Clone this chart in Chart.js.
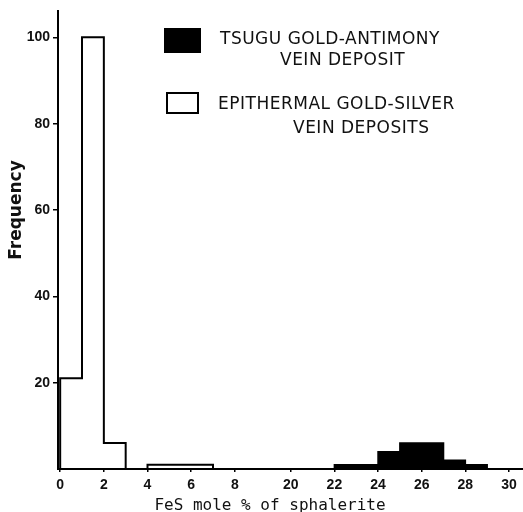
<!DOCTYPE html>
<html lang="en">
<head>
<meta charset="UTF-8" />
<title>FeS mole % of sphalerite</title>
<script src="https://cdn.jsdelivr.net/npm/chart.js"></script>
<style>
  html, body { margin: 0; padding: 0; background: #fff; }
  #wrap { width: 523px; height: 512px; }
</style>
</head>
<body>
<div id="wrap"><canvas id="myChart"></canvas></div>
<script>
  // histogram bins, 1 mole % wide: left edges and counts
  const epiBinEdges = [0, 1, 2, 3, 4, 5, 6, 7];
  const epiCounts = [21, 100, 6, 0, 1, 1, 1];
  const tsuguBinEdges = [22, 23, 24, 25, 26, 27, 28, 29];
  const tsuguCounts = [1, 1, 4, 6, 6, 2, 1];

  const xTickLabels = [0, 2, 4, 6, 8, 20, 22, 24, 26, 28, 30];
  const yTickValues = [20, 40, 60, 80, 100];

  const seriesLabels = [
    ['TSUGU GOLD-ANTIMONY', 'VEIN DEPOSIT'],
    ['EPITHERMAL GOLD-SILVER', 'VEIN DEPOSITS']
  ];
  const xTitle = 'FeS mole % of sphalerite';
  const yTitle = 'Frequency';

  // x axis is broken between 8 and 20
  const BREAK_AT = 8, RESUME_AT = 20, GAP = 2.56;
  function toPos(v) {
    return v <= BREAK_AT ? v : v - RESUME_AT + BREAK_AT + GAP;
  }

  // outline of a histogram as a stepped line
  function stepPoints(edges, counts) {
    const pts = [{ x: toPos(edges[0]), y: 0 }];
    counts.forEach((c, i) => pts.push({ x: toPos(edges[i]), y: c }));
    pts.push({ x: toPos(edges[edges.length - 1]), y: 0 });
    return pts;
  }

  // legend boxes with two-line labels, drawn inside the plot
  const boxLegend = {
    id: 'boxLegend',
    afterDraw(chart) {
      const ctx = chart.ctx;
      const items = [
        { box: [165, 29, 35, 23], fill: '#000', lines: [[220, 40], [280, 61]] },
        { box: [167, 93, 31, 20], fill: '#fff', lines: [[218, 105], [293, 129]] }
      ];
      ctx.save();
      ctx.font = '17px "DejaVu Sans"';
      ctx.letterSpacing = '0.5px';
      ctx.textBaseline = 'middle';
      items.forEach((it, i) => {
        const [bx, by, bw, bh] = it.box;
        ctx.fillStyle = it.fill;
        ctx.fillRect(bx, by, bw, bh);
        ctx.lineWidth = 2;
        ctx.strokeStyle = '#000';
        ctx.strokeRect(bx, by, bw, bh);
        ctx.fillStyle = '#111';
        seriesLabels[i].forEach((t, j) => {
          ctx.fillText(t, it.lines[j][0], it.lines[j][1]);
        });
      });
      ctx.restore();
    }
  };

  // axis titles, placed like the hand lettering of the original figure
  const axisTitles = {
    id: 'axisTitles',
    afterDraw(chart) {
      const ctx = chart.ctx;
      ctx.save();
      ctx.fillStyle = '#111';
      ctx.textAlign = 'center';
      ctx.textBaseline = 'alphabetic';
      ctx.font = '16px "DejaVu Sans Mono"';
      ctx.fillText(xTitle, 270, 510);
      ctx.translate(21, 210);
      ctx.rotate(-Math.PI / 2);
      ctx.font = 'bold 17px "DejaVu Sans"';
      ctx.fillText(yTitle, 0, 0);
      ctx.restore();
    }
  };

  const ctx = document.getElementById('myChart').getContext('2d');

  const myChart = new Chart(ctx, {
    type: 'line',
    data: {
      datasets: [
        {
          label: seriesLabels[0].join(' '),
          data: stepPoints(tsuguBinEdges, tsuguCounts),
          stepped: true,
          fill: 'origin',
          backgroundColor: '#000',
          borderColor: '#000',
          borderWidth: 1.5,
          pointRadius: 0
        },
        {
          label: seriesLabels[1].join(' '),
          data: stepPoints(epiBinEdges, epiCounts),
          stepped: true,
          fill: false,
          borderColor: '#000',
          borderWidth: 2,
          pointRadius: 0
        }
      ]
    },
    options: {
      responsive: true,
      maintainAspectRatio: false,
      animation: false,
      layout: { padding: { top: 10, right: 0, left: 0, bottom: 0 } },
      scales: {
        x: {
          type: 'linear',
          min: -0.1,
          max: 21.2,
          afterBuildTicks: axis => {
            axis.ticks = xTickLabels.map(v => ({ value: toPos(v) }));
          },
          afterFit: axis => { axis.height = 43; },
          ticks: {
            autoSkip: false,
            maxRotation: 0,
            padding: 5,
            color: '#111',
            font: { family: '"Liberation Sans"', size: 14, weight: 'bold' },
            callback: (val, i) => xTickLabels[i]
          },
          grid: { drawOnChartArea: false, drawTicks: true, tickLength: 3, color: '#000', lineWidth: 1.5 },
          border: { display: true, color: '#000', width: 2 }
        },
        y: {
          min: 0,
          max: 106,
          afterBuildTicks: axis => {
            axis.ticks = yTickValues.map(v => ({ value: v }));
          },
          afterFit: axis => { axis.width = 58; },
          ticks: {
            padding: 3,
            color: '#111',
            font: { family: '"Liberation Sans"', size: 14, weight: 'bold' }
          },
          grid: { drawOnChartArea: false, drawTicks: true, tickLength: 5, color: '#000', lineWidth: 1.5 },
          border: { display: true, color: '#000', width: 2 }
        }
      },
      plugins: {
        legend: { display: false },
        tooltip: { enabled: false }
      }
    },
    plugins: [boxLegend, axisTitles]
  });
</script>
</body>
</html>
